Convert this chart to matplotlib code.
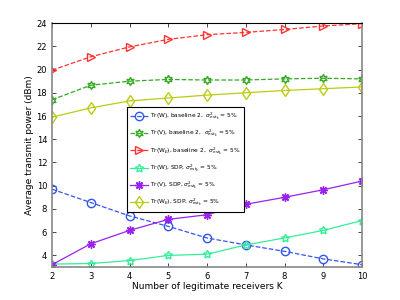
import numpy as np
import matplotlib.pyplot as plt

K = [2, 3, 4, 5, 6, 7, 8, 9, 10]
w_base  = [9.7, 8.55, 7.4, 6.5, 5.5, 4.9, 4.35, 3.7, 3.2]
v_base  = [17.4, 18.65, 19.0, 19.15, 19.1, 19.1, 19.2, 19.25, 19.2]
we_base = [19.95, 21.1, 21.95, 22.6, 23.0, 23.2, 23.45, 23.75, 23.95]
w_sdp   = [3.25, 3.3, 3.55, 4.0, 4.1, 4.9, 5.5, 6.15, 7.0]
v_sdp   = [3.2, 5.0, 6.15, 7.1, 7.5, 8.4, 9.0, 9.65, 10.4]
we_sdp  = [15.9, 16.7, 17.3, 17.55, 17.8, 18.0, 18.2, 18.35, 18.5]

sig = r'$\sigma^2_{\mathrm{est}_k}$ = 5%'
labels = [r'Tr(W), baseline 2,  ' + sig,
          r'Tr(V), baseline 2,  ' + sig,
          r'Tr(W$_E$), baseline 2,  ' + sig,
          r'Tr(W), SDP, ' + sig,
          r'Tr(V), SDP, ' + sig,
          r'Tr(W$_E$), SDP, ' + sig]

fig = plt.figure(figsize=(4, 3), dpi=100)
ax = fig.add_axes([0.13, 0.11, 0.775, 0.813])

ms = 6
ax.plot(K, w_base, '--', color='#3355ee', marker='o', mfc='none', ms=ms, lw=0.9, label=labels[0])
ax.plot(K, v_base, '--', color='#33aa22', marker=(6, 1, 0), mfc='none', ms=ms, lw=0.9, label=labels[1])
ax.plot(K, we_base, '--', color='#ff3333', marker='>', mfc='none', ms=ms, lw=0.9, label=labels[2])
ax.plot(K, w_sdp, '-', color='#33ee99', marker=(5, 1, 0), mfc='none', ms=ms, lw=0.9, label=labels[3])
ax.plot(K, v_sdp, '-', color='#9922ee', marker=(8, 2, 0), ms=ms, lw=0.9, label=labels[4])
ax.plot(K, we_sdp, '-', color='#bbcc11', marker='d', mfc='none', ms=ms, lw=0.9, label=labels[5])

ax.set_xlim(2, 10)
ax.set_ylim(3, 24)
ax.set_xticks(K)
ax.set_yticks(np.arange(4, 25, 2))
ax.tick_params(direction='in', top=True, right=True, labelsize=6, length=3, width=0.5)
for s in ['left', 'right', 'bottom']:
    ax.spines[s].set_color('#888888')
    ax.spines[s].set_linewidth(1.2)
ax.spines['top'].set_linewidth(0.8)

ax.set_xlabel('Number of legitimate receivers K', fontsize=6.5, labelpad=1)
ax.set_ylabel('Average transmit power (dBm)', fontsize=6.5, labelpad=2)

leg = ax.legend(loc='upper left', bbox_to_anchor=(0.232, 0.667), fontsize=4.2,
                fancybox=False, edgecolor='black', framealpha=1,
                handlelength=3.0, handletextpad=0.4, labelspacing=1.0, borderpad=0.6)
leg.get_frame().set_linewidth(0.8)

plt.savefig('out.png', dpi=100)
